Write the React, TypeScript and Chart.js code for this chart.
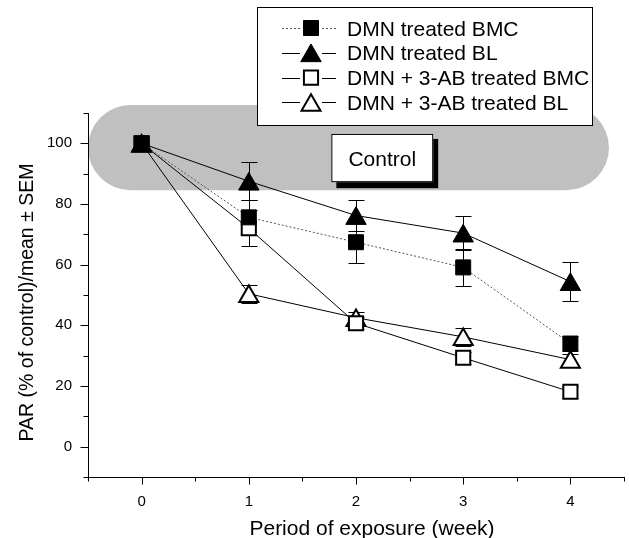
import { useEffect, useRef } from 'react';
import { Chart, registerables } from 'chart.js';

Chart.register(...registerables);

// ---- data ----
const weeks = [0, 1, 2, 3, 4];
const dmnBMC = [100, 75.6, 67.4, 59.1, 34.0];
const dmnBMCsem = [0, 5.7, 6.9, 6.2, 2.5];
const dmnBL = [100, 87.5, 76.2, 70.4, 54.4];
const dmnBLsem = [0, 6.3, 5.0, 5.5, 6.5];
const abBMC = [100, 72.0, 40.7, 29.3, 18.1];
const abBMCsem = [0, 6.0, 2.0, 2.0, 2.0];
const abBL = [100, 50.4, 42.5, 36.2, 28.7];
const abBLsem = [0, 3.0, 2.0, 3.0, 2.0];
const seriesNames = [
  'DMN treated BMC',
  'DMN treated BL',
  'DMN + 3-AB treated BMC',
  'DMN + 3-AB treated BL',
];
const xTickLabels = ['0', '1', '2', '3', '4'];
const yTickLabels = ['0', '20', '40', '60', '80', '100'];
const xTitle = 'Period of exposure (week)';
const yTitle = 'PAR (% of control)/mean \u00b1 SEM';
const controlLabel = 'Control';
// control region (data units)
const bandX = [-0.5, 4.36];
const bandY = [84.5, 112.6];
const controlBoxX = [1.77, 2.72];
const controlBoxY = [87.2, 103.1];

const FONT = '"Liberation Sans", Arial, Helvetica, sans-serif';
const sems = [dmnBMCsem, dmnBLsem, abBMCsem, abBLsem];

type Style = { shape: 'rect' | 'triangle'; filled: boolean; r: number; dash: number[]; color: string };
const styles: Style[] = [
  { shape: 'rect', filled: true, r: 10.6, dash: [2, 2], color: '#555' },
  { shape: 'triangle', filled: true, r: 11.8, dash: [], color: '#000' },
  { shape: 'rect', filled: false, r: 10, dash: [], color: '#000' },
  { shape: 'triangle', filled: false, r: 11, dash: [], color: '#000' },
];

function drawMarker(ctx: CanvasRenderingContext2D, s: Style, cx: number, cy: number) {
  ctx.save();
  ctx.beginPath();
  if (s.shape === 'rect') {
    const h = Math.SQRT1_2 * s.r;
    ctx.rect(cx - h, cy - h, 2 * h, 2 * h);
  } else {
    const r = s.r;
    const yc = cy + r / 4;
    ctx.moveTo(cx, yc - r);
    ctx.lineTo(cx + (r * Math.sqrt(3)) / 2, yc + r / 2);
    ctx.lineTo(cx - (r * Math.sqrt(3)) / 2, yc + r / 2);
    ctx.closePath();
  }
  ctx.fillStyle = s.filled ? '#000' : '#fff';
  ctx.fill();
  ctx.lineWidth = s.filled ? 1 : 2;
  ctx.strokeStyle = '#000';
  ctx.stroke();
  ctx.restore();
}

const decor = {
  id: 'decor',
  beforeDraw(chart: any) {
    const { ctx, scales } = chart;
    const x = scales.x, y = scales.y;
    ctx.save();
    const bx0 = x.getPixelForValue(bandX[0]);
    const bx1 = x.getPixelForValue(bandX[1]);
    const by0 = y.getPixelForValue(bandY[1]);
    const by1 = y.getPixelForValue(bandY[0]);
    ctx.fillStyle = '#c0c0c0';
    ctx.beginPath();
    ctx.roundRect(bx0, by0, bx1 - bx0, by1 - by0, (by1 - by0) / 2);
    ctx.fill();
    const cx0 = x.getPixelForValue(controlBoxX[0]);
    const cx1 = x.getPixelForValue(controlBoxX[1]);
    const cy0 = y.getPixelForValue(controlBoxY[1]);
    const cy1 = y.getPixelForValue(controlBoxY[0]);
    ctx.fillStyle = '#000';
    ctx.fillRect(cx0 + 5, cy0 + 5, cx1 - cx0, cy1 - cy0 + 1);
    ctx.fillStyle = '#fff';
    ctx.fillRect(cx0, cy0, cx1 - cx0, cy1 - cy0);
    ctx.strokeStyle = '#000';
    ctx.lineWidth = 1;
    ctx.strokeRect(cx0 + 0.5, cy0 + 0.5, cx1 - cx0 - 1, cy1 - cy0 - 1);
    ctx.fillStyle = '#000';
    ctx.font = `21px ${FONT}`;
    ctx.textAlign = 'center';
    ctx.textBaseline = 'alphabetic';
    ctx.fillText(controlLabel, (cx0 + cx1) / 2, (cy0 + cy1) / 2 + 7.5);
    ctx.restore();
  },
  beforeDatasetsDraw(chart: any) {
    const { ctx, scales } = chart;
    const x = scales.x, y = scales.y;
    ctx.save();
    ctx.strokeStyle = '#000';
    ctx.lineWidth = 1;
    chart.data.datasets.forEach((ds: any, i: number) => {
      ds.data.forEach((p: any, j: number) => {
        const e = sems[i][j];
        if (!e) return;
        const px = Math.round(x.getPixelForValue(p.x)) + 0.5;
        const top = y.getPixelForValue(p.y + e);
        const bot = y.getPixelForValue(p.y - e);
        ctx.beginPath();
        ctx.moveTo(px, top);
        ctx.lineTo(px, bot);
        ctx.moveTo(px - 8, Math.round(top) + 0.5);
        ctx.lineTo(px + 8, Math.round(top) + 0.5);
        ctx.moveTo(px - 8, Math.round(bot) + 0.5);
        ctx.lineTo(px + 8, Math.round(bot) + 0.5);
        ctx.stroke();
      });
    });
    ctx.restore();
  },
  afterDatasetsDraw(chart: any) {
    const { ctx, scales } = chart;
    const x = scales.x, y = scales.y;
    for (let i = chart.data.datasets.length - 1; i >= 0; i--) {
      const ds = chart.data.datasets[i];
      ds.data.forEach((p: any) => {
        drawMarker(ctx, styles[i], x.getPixelForValue(p.x), y.getPixelForValue(p.y));
      });
    }
  },
  afterDraw(chart: any) {
    const { ctx, scales, chartArea } = chart;
    const x = scales.x, y = scales.y;
    ctx.save();
    ctx.strokeStyle = '#000';
    ctx.lineWidth = 1;
    const ax = Math.round(chartArea.left) + 0.5;
    for (let v = -10; v <= 110; v += 10) {
      const py = Math.round(y.getPixelForValue(v)) + 0.5;
      const len = v % 20 === 0 ? 8 : 5;
      ctx.beginPath();
      ctx.moveTo(ax - len, py);
      ctx.lineTo(ax, py);
      ctx.stroke();
    }
    const ay = Math.round(chartArea.bottom) + 0.5;
    for (let v = -0.5; v <= 4.5; v += 0.5) {
      const px = Math.round(x.getPixelForValue(v)) + 0.5;
      const len = Number.isInteger(v) ? 7 : 4;
      ctx.beginPath();
      ctx.moveTo(px, ay);
      ctx.lineTo(px, ay + len);
      ctx.stroke();
    }
    ctx.fillStyle = '#000';
    ctx.font = `21px ${FONT}`;
    ctx.textAlign = 'center';
    ctx.textBaseline = 'alphabetic';
    ctx.fillText(xTitle, 372, 535);
    ctx.save();
    ctx.translate(33, 302.5);
    ctx.rotate(-Math.PI / 2);
    ctx.font = `19.5px ${FONT}`;
    ctx.fillText(yTitle, 0, 0);
    ctx.restore();

    const lx0 = 257, ly0 = 7, lx1 = 593, ly1 = 126;
    ctx.fillStyle = '#fff';
    ctx.fillRect(lx0, ly0, lx1 - lx0, ly1 - ly0);
    ctx.strokeRect(lx0 + 0.5, ly0 + 0.5, lx1 - lx0 - 1, ly1 - ly0 - 1);
    const rows = [28, 52.8, 77.6, 102.4];
    seriesNames.forEach((name, i) => {
      const ry = rows[i];
      const s = styles[i];
      ctx.save();
      ctx.strokeStyle = s.color;
      ctx.lineWidth = 1;
      ctx.setLineDash(s.dash);
      ctx.beginPath();
      ctx.moveTo(282, Math.round(ry) + 0.5);
      ctx.lineTo(300, Math.round(ry) + 0.5);
      ctx.moveTo(322, Math.round(ry) + 0.5);
      ctx.lineTo(336, Math.round(ry) + 0.5);
      ctx.stroke();
      ctx.restore();
      drawMarker(ctx, s, 311, ry);
      ctx.fillStyle = '#000';
      ctx.font = `21px ${FONT}`;
      ctx.textAlign = 'left';
      ctx.textBaseline = 'alphabetic';
      ctx.fillText(name, 347, ry + 7.5);
    });
    ctx.restore();
  },
};

export default function App() {
  const ref = useRef<HTMLCanvasElement | null>(null);
  useEffect(() => {
    if (!ref.current) return;
    const series = [dmnBMC, dmnBL, abBMC, abBL];
    const chart = new Chart(ref.current, {
      type: 'line',
      data: {
        datasets: series.map((vals, i) => ({
          label: seriesNames[i],
          data: weeks.map((w, j) => ({ x: w, y: vals[j] })),
          borderColor: styles[i].color,
          borderWidth: 1,
          borderDash: styles[i].dash,
          pointRadius: 0,
          pointHoverRadius: 0,
          fill: false,
          tension: 0,
        })),
      },
      options: {
        animation: false,
        responsive: false,
        events: [],
        layout: { padding: { left: 0, top: 113, right: 0, bottom: 0 } },
        plugins: { legend: { display: false }, tooltip: { enabled: false }, title: { display: false } },
        scales: {
          x: {
            type: 'linear',
            min: -0.5,
            max: 4.5,
            afterFit: (s: any) => { s.height = 61; },
            grid: { display: false },
            border: { display: true, color: '#000', width: 1 },
            ticks: {
              stepSize: 0.5,
              autoSkip: false,
              maxRotation: 0,
              padding: 8,
              color: '#000',
              font: { family: FONT, size: 15 },
              callback: (v: any) => {
                const n = Number(v);
                return Number.isInteger(n) && n >= 0 ? xTickLabels[n] : '';
              },
            },
          },
          y: {
            type: 'linear',
            min: -10,
            max: 110,
            afterFit: (s: any) => { s.width = 88; },
            grid: { display: false },
            border: { display: true, color: '#000', width: 1 },
            ticks: {
              stepSize: 10,
              autoSkip: false,
              padding: 8,
              color: '#000',
              font: { family: FONT, size: 15 },
              callback: (v: any) => {
                const n = Number(v);
                return n % 20 === 0 && n >= 0 ? yTickLabels[n / 20] : '';
              },
            },
          },
        },
      },
      plugins: [decor],
    } as any);
    return () => chart.destroy();
  }, []);
  return (
    <div style={{ position: 'fixed', left: 0, top: 0, width: 629, height: 538, overflow: 'hidden', background: '#fff' }}>
      <canvas ref={ref} width={632} height={538} style={{ display: 'block' }} />
    </div>
  );
}
